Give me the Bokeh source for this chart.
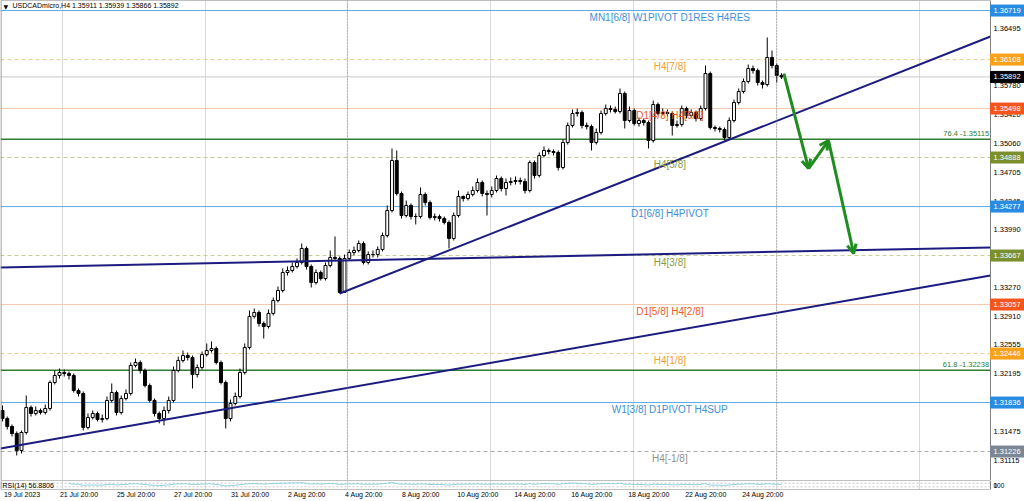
import numpy as np
from bokeh.plotting import figure
from bokeh.layouts import column
from bokeh.models import (ColumnDataSource, FixedTicker, Span, Arrow, OpenHead, Range1d,
                          LinearAxis)
from bokeh.core.properties import value
from bokeh.embed import file_html
from bokeh.resources import INLINE

# ---------------- data ----------------
symbol = "USDCADmicro,H4"
first_open = 1.31737
close = [
    1.31637, 1.31538, 1.31451, 1.31239, 1.31463, 1.31775, 1.31700, 1.31737, 1.31712, 1.31762,
    1.32086, 1.32173, 1.32210, 1.32198, 1.32173, 1.31986, 1.31949, 1.31526, 1.31650, 1.31700,
    1.31625, 1.31637, 1.31862, 1.31961, 1.31712, 1.31886, 1.31949, 1.32298, 1.32335, 1.32235,
    1.32048, 1.31862, 1.31700, 1.31637, 1.31737, 1.31862, 1.32235, 1.32360, 1.32422, 1.32397,
    1.32185, 1.32273, 1.32434, 1.32484, 1.32509, 1.32335, 1.32086, 1.31637, 1.31824, 1.31911,
    1.32210, 1.32522, 1.32909, 1.32958, 1.32821, 1.32783, 1.32946, 1.33107, 1.33232, 1.33456,
    1.33481, 1.33531, 1.33581, 1.33755, 1.33531, 1.33331, 1.33456, 1.33381, 1.33543, 1.33643,
    1.33631, 1.33207, 1.33631, 1.33705, 1.33730, 1.33817, 1.33581, 1.33680, 1.33680, 1.33743,
    1.33917, 1.34228, 1.34851, 1.34440, 1.34166, 1.34291, 1.34153, 1.34153, 1.34428, 1.34328,
    1.34141, 1.34153, 1.34128, 1.34079, 1.33880, 1.34166, 1.34403, 1.34378, 1.34428, 1.34477,
    1.34577, 1.34440, 1.34428, 1.34477, 1.34627, 1.34502, 1.34577, 1.34589, 1.34602, 1.34589,
    1.34477, 1.34826, 1.34664, 1.34913, 1.34976, 1.34963, 1.34951, 1.34764, 1.35075, 1.35287,
    1.35436, 1.35449, 1.35287, 1.35274, 1.35075, 1.35200, 1.35436, 1.35499, 1.35486, 1.35461,
    1.35686, 1.35349, 1.35474, 1.35312, 1.35349, 1.35324, 1.35100, 1.35548, 1.35436, 1.35449,
    1.35436, 1.35287, 1.35299, 1.35499, 1.35411, 1.35449, 1.35374, 1.35499, 1.35934, 1.35262,
    1.35250, 1.35237, 1.35137, 1.35349, 1.35573, 1.35710, 1.35835, 1.35997, 1.35972, 1.35822,
    1.35797, 1.36134, 1.36034, 1.35911, 1.35892]
high = [
    1.31800, 1.31662, 1.31563, 1.31476, 1.31488, 1.31924, 1.31800, 1.31787, 1.31762, 1.31812,
    1.32111, 1.32235, 1.32260, 1.32247, 1.32223, 1.32198, 1.32011, 1.31974, 1.31700, 1.31737,
    1.31725, 1.31687, 1.31911, 1.32073, 1.31986, 1.31924, 1.31999, 1.32335, 1.32385, 1.32360,
    1.32260, 1.32073, 1.31886, 1.31725, 1.31787, 1.31911, 1.32285, 1.32409, 1.32484, 1.32459,
    1.32422, 1.32310, 1.32472, 1.32572, 1.32597, 1.32534, 1.32360, 1.32111, 1.31874, 1.31961,
    1.32260, 1.32572, 1.32983, 1.33008, 1.32983, 1.32846, 1.32995, 1.33144, 1.33282, 1.33506,
    1.33531, 1.33581, 1.33631, 1.33817, 1.33780, 1.33556, 1.33494, 1.33481, 1.33581, 1.33730,
    1.33905, 1.33656, 1.33680, 1.33743, 1.33780, 1.33855, 1.33842, 1.33718, 1.33730, 1.33780,
    1.33954, 1.34291, 1.35001, 1.34976, 1.34465, 1.34353, 1.34316, 1.34191, 1.34515, 1.34453,
    1.34353, 1.34191, 1.34178, 1.34153, 1.34104, 1.34203, 1.34477, 1.34415, 1.34465, 1.34527,
    1.34627, 1.34602, 1.34477, 1.34527, 1.34664, 1.34652, 1.34627, 1.34639, 1.34652, 1.34639,
    1.34627, 1.34851, 1.34851, 1.34951, 1.35026, 1.35001, 1.34988, 1.34976, 1.35113, 1.35324,
    1.35486, 1.35499, 1.35474, 1.35324, 1.35299, 1.35250, 1.35474, 1.35548, 1.35536, 1.35523,
    1.35748, 1.35710, 1.35523, 1.35499, 1.35387, 1.35374, 1.35349, 1.35598, 1.35573, 1.35499,
    1.35486, 1.35461, 1.35349, 1.35536, 1.35523, 1.35486, 1.35474, 1.35536, 1.36034, 1.35959,
    1.35287, 1.35274, 1.35262, 1.35387, 1.35611, 1.35748, 1.35872, 1.36047, 1.36034, 1.35997,
    1.35847, 1.36383, 1.36221, 1.36059, 1.35939]
low = [
    1.31601, 1.31501, 1.31413, 1.31177, 1.31202, 1.31438, 1.31662, 1.31675, 1.31687, 1.31687,
    1.31737, 1.32061, 1.32135, 1.32160, 1.32123, 1.31961, 1.31911, 1.31488, 1.31501, 1.31625,
    1.31601, 1.31588, 1.31613, 1.31837, 1.31675, 1.31687, 1.31862, 1.31924, 1.32273, 1.32198,
    1.32024, 1.31837, 1.31662, 1.31576, 1.31551, 1.31700, 1.31837, 1.32210, 1.32335, 1.32360,
    1.32011, 1.32148, 1.32247, 1.32409, 1.32459, 1.32310, 1.32061, 1.31513, 1.31601, 1.31800,
    1.31886, 1.32185, 1.32497, 1.32883, 1.32783, 1.32634, 1.32758, 1.32921, 1.33082, 1.33207,
    1.33419, 1.33456, 1.33506, 1.33556, 1.33494, 1.33269, 1.33306, 1.33356, 1.33356, 1.33519,
    1.33606, 1.33194, 1.33207, 1.33606, 1.33668, 1.33705, 1.33556, 1.33556, 1.33643, 1.33643,
    1.33718, 1.33892, 1.34203, 1.34415, 1.34128, 1.34141, 1.34116, 1.34054, 1.34128, 1.34291,
    1.34116, 1.34104, 1.34091, 1.34054, 1.33755, 1.33855, 1.34141, 1.34340, 1.34353, 1.34403,
    1.34453, 1.34403, 1.34166, 1.34390, 1.34453, 1.34465, 1.34415, 1.34540, 1.34552, 1.34552,
    1.34440, 1.34453, 1.34627, 1.34639, 1.34889, 1.34926, 1.34913, 1.34726, 1.34739, 1.35050,
    1.35262, 1.35399, 1.35250, 1.35237, 1.34976, 1.35050, 1.35175, 1.35411, 1.35449, 1.35436,
    1.35436, 1.35250, 1.35324, 1.35287, 1.35274, 1.35287, 1.35001, 1.35075, 1.35411, 1.35411,
    1.35399, 1.35162, 1.35262, 1.35274, 1.35374, 1.35387, 1.35337, 1.35349, 1.35474, 1.35237,
    1.35212, 1.35200, 1.35100, 1.35113, 1.35324, 1.35548, 1.35686, 1.35810, 1.35934, 1.35785,
    1.35748, 1.35772, 1.35997, 1.35822, 1.35866]

date_ticks = [0, 12, 24, 36, 48, 60, 72, 84, 96, 108, 120, 132, 144, 156]
date_labels = ["19 Jul 2023", "21 Jul 20:00", "25 Jul 20:00", "27 Jul 20:00",
               "31 Jul 20:00", "2 Aug 20:00", "4 Aug 20:00", "8 Aug 20:00",
               "10 Aug 20:00", "14 Aug 20:00", "16 Aug 20:00", "18 Aug 20:00",
               "22 Aug 20:00", "24 Aug 20:00"]
price_ticks = [1.36495, 1.36140, 1.35780, 1.35420, 1.35060, 1.34705, 1.34345, 1.33990,
               1.33630, 1.33270, 1.32910, 1.32555, 1.32195, 1.31835, 1.31475, 1.31115]
grid_x = [12.6, 42.7, 72.6, 102.7, 132.8, 163.0, 193.1]
separator_x = [72.6, 163.0]

level_price = [1.36719, 1.36108, 1.35498, 1.34888, 1.34277, 1.33667, 1.33057, 1.32446,
               1.31836, 1.31226]
level_name = ["MN1[6/8] W1PIVOT D1RES H4RES", "H4[7/8]", "D1[4/8] H4[6/8]", "H4[5/8]",
              "D1[6/8] H4PIVOT", "H4[3/8]", "D1[5/8] H4[2/8]", "H4[1/8]",
              "W1[3/8] D1PIVOT H4SUP", "H4[-1/8]"]
level_kind = ["blue", "orange", "red", "olive", "blue", "olive", "red", "orange", "blue", "gray"]

fib_price = [1.35115, 1.32238]
fib_name = ["76.4", "61.8"]

trend_x0 = [71, -0.42, -0.42]
trend_y0 = [1.33194, 1.33519, 1.31264]
trend_x1 = [208.0, 208.0, 208.0]
trend_y1 = [1.36396, 1.33768, 1.33418]

arrow_x = [164.5, 169.7, 173.9, 179.2]
arrow_y = [1.35934, 1.34751, 1.35100, 1.33693]

rsi_period = 14
rsi_shown = 56.8806
rsi_axis_labels = ["100", "0"]

# ---------------- styles ----------------
FONT = "Liberation Sans"
STYLE = {
    "blue":   dict(line="#5AA9E6", dash="solid", text="#3D8FD6", box="#2A8CE0"),
    "orange": dict(line="#F2CB8F", dash="4 3",   text="#F0A030", box="#F7A21B"),
    "red":    dict(line="#F5C9AE", dash="solid", text="#EE5A24", box="#F2561D"),
    "olive":  dict(line="#C5CC96", dash="4 3",   text="#8C9A3C", box="#7A8F2E"),
    "gray":   dict(line="#A9A9A9", dash="4 3",   text="#909090", box="#7C8796"),
}
GREEN = "#2E7D32"
ARROW_GREEN = "#1E8C1E"
NAVY = "#1C1C80"
BORDER = "#808080"

W = 1024
MAIN_H = 480
x_lo, x_hi = -0.421, 215.16      # full window width
axis_x = 208.0                    # where the price scale begins
y_lo, y_hi = 1.30865, 1.36844
label_shift = 4.1                 # date labels start at their tick (MT4 style)

n = len(close)
idx = np.arange(n)
opens = np.array([first_open] + close[:-1])
c = np.array(close)
body_top = np.maximum(opens, c)
body_bot = np.minimum(opens, c)
fills = ["white" if cc >= oo else "black" for oo, cc in zip(opens, c)]

p = figure(frame_width=W, frame_height=MAIN_H,
           x_range=Range1d(x_lo, x_hi), y_range=Range1d(y_lo, y_hi),
           y_axis_location=None, x_axis_location=None,
           output_backend="svg", toolbar_location=None, min_border=0,
           background_fill_color="white", border_fill_color="white",
           outline_line_color=None)
p.ygrid.visible = False
p.xgrid.ticker = FixedTicker(ticks=grid_x)
p.xgrid.grid_line_color = "#DADADA"

for sx in separator_x:
    p.add_layout(Span(location=sx, dimension="height", line_color="#8A8A8A",
                      line_dash="1 2", line_width=1))

# murrey / pivot levels (stop at the price scale)
for pr, kind in zip(level_price, level_kind):
    st = STYLE[kind]
    p.segment(x0=[x_lo], y0=[pr], x1=[axis_x], y1=[pr], line_color=st["line"],
              line_dash=st["dash"], line_width=1)
p.segment(x0=[x_lo] * len(fib_price), y0=fib_price, x1=[axis_x] * len(fib_price), y1=fib_price,
          line_color=GREEN, line_width=1.5)
p.segment(x0=[x_lo], y0=[close[-1]], x1=[axis_x], y1=[close[-1]], line_color="#C8C8C8", line_width=1)

# candles
src = ColumnDataSource(dict(x=idx, top=body_top, bottom=body_bot, high=high, low=low, fill=fills))
p.segment(x0="x", y0="low", x1="x", y1="high", source=src, line_color="#000000", line_width=1)
p.vbar(x="x", width=0.62, top="top", bottom="bottom", source=src,
       fill_color="fill", line_color="#000000", line_width=1)

# trend lines
p.segment(x0=trend_x0, y0=trend_y0, x1=trend_x1, y1=trend_y1, line_color=NAVY, line_width=2)

# forecast arrows
asrc = ColumnDataSource(dict(xs=arrow_x[:-1], ys=arrow_y[:-1], xe=arrow_x[1:], ye=arrow_y[1:]))
p.add_layout(Arrow(end=OpenHead(size=9, line_color=ARROW_GREEN, line_width=3),
                   x_start="xs", y_start="ys", x_end="xe", y_end="ye", source=asrc,
                   line_color=ARROW_GREEN, line_width=3))

# level texts
lsrc = ColumnDataSource(dict(
    x=[140.5] * len(level_price), y=level_price, t=level_name,
    col=[STYLE[k]["text"] for k in level_kind]))
p.text(x="x", y="y", text="t", source=lsrc, text_color="col",
       text_font=value(FONT), text_font_size="10px",
       text_align="center", text_baseline="top", y_offset=1)

fsrc = ColumnDataSource(dict(
    x=[axis_x - 0.3] * len(fib_price), y=fib_price,
    t=[f"{nm} -{pr:.5f}" for nm, pr in zip(fib_name, fib_price)]))
p.text(x="x", y="y", text="t", source=fsrc, text_color=GREEN,
       text_font=value(FONT), text_font_size="7.5px",
       text_align="right", text_baseline="bottom", y_offset=-1)

# chart border + price scale line
p.segment(x0=[x_lo, x_lo, x_lo + 0.1, axis_x], y0=[y_hi, y_lo, y_lo, y_lo],
          x1=[axis_x, axis_x, x_lo + 0.1, axis_x], y1=[y_hi, y_lo, y_hi, y_hi],
          line_color=BORDER, line_width=1)

# price scale labels
p.text(x=[axis_x] * len(price_ticks), y=price_ticks, text=[f"{t:.5f}" for t in price_ticks],
       x_offset=3, text_baseline="middle", text_align="left",
       text_font=value(FONT), text_font_size="7.5px", text_color="#000000")

# coloured price boxes on the scale
half = 5.5 * (y_hi - y_lo) / MAIN_H
box_price = level_price + [close[-1]]
box_color = [STYLE[k]["box"] for k in level_kind] + ["#000000"]
bsrc = ColumnDataSource(dict(left=[axis_x] * len(box_price), right=[x_hi] * len(box_price),
                             top=[b + half for b in box_price], bottom=[b - half for b in box_price],
                             y=box_price, t=[f"{b:.5f}" for b in box_price], col=box_color))
p.quad(left="left", right="right", top="top", bottom="bottom", source=bsrc,
       fill_color="col", line_color="col")
p.text(x="left", y="y", text="t", source=bsrc, x_offset=3, text_baseline="middle",
       text_align="left", text_font=value(FONT), text_font_size="7.5px", text_color="white")

# title
title = f"{symbol} {opens[-1]:.5f} {high[-1]:.5f} {low[-1]:.5f} {close[-1]:.5f}"
p.text(x=[x_lo], y=[y_hi], text=["\u25BC"], x_offset=3, y_offset=2,
       text_font=value("DejaVu Sans"), text_font_size="6px", text_color="#000000",
       text_baseline="top")
p.text(x=[x_lo], y=[y_hi], text=[title], x_offset=12, y_offset=1,
       text_font=value(FONT), text_font_size="7px", text_color="#000000",
       text_baseline="top")

# ---------------- RSI sub-window ----------------
def rsi(vals, period):
    vals = np.asarray(vals, dtype=float)
    d = np.diff(vals)
    up = np.where(d > 0, d, 0.0)
    dn = np.where(d < 0, -d, 0.0)
    out = np.full(len(vals), np.nan)
    au = up[:period].mean()
    ad = dn[:period].mean()
    out[period] = 100 - 100 / (1 + au / ad) if ad > 0 else 100
    for i in range(period, len(d)):
        au = (au * (period - 1) + up[i]) / period
        ad = (ad * (period - 1) + dn[i]) / period
        out[i + 1] = 100 - 100 / (1 + au / ad) if ad > 0 else 100
    return out

r = figure(frame_width=W, frame_height=9, x_range=p.x_range, y_range=Range1d(0, 100),
           y_axis_location=None, x_axis_location=None,
           output_backend="svg", toolbar_location=None, min_border=0,
           background_fill_color="white", border_fill_color="white", outline_line_color=None)
r.xgrid.ticker = FixedTicker(ticks=grid_x)
r.xgrid.grid_line_color = "#DADADA"
r.ygrid.visible = False
for lv in (30, 70):
    r.segment(x0=[x_lo], y0=[lv], x1=[axis_x], y1=[lv], line_color="#C8C8C8", line_dash="2 2")
r.line(idx, rsi(close, rsi_period), line_color="#8FD0DF", line_width=1)
r.segment(x0=[x_lo, x_lo, x_lo + 0.1, axis_x], y0=[100, 0, 0, 0],
          x1=[axis_x, axis_x, x_lo + 0.1, axis_x], y1=[100, 0, 100, 100],
          line_color=BORDER, line_width=1)
r.text(x=[x_lo], y=[100], text=[f"RSI({rsi_period}) {rsi_shown:.4f}"], x_offset=2, y_offset=1,
       text_font=value(FONT), text_font_size="7px", text_color="#000000", text_baseline="top")
r.text(x=[axis_x, axis_x], y=[50, 50], text=rsi_axis_labels, x_offset=3,
       text_baseline="middle", text_align="left",
       text_font=value(FONT), text_font_size="6.5px", text_color="#000000")

# date axis: a shifted range so that each label starts at its bar, as MT4 does
r.extra_x_ranges = {"dates": Range1d(x_lo - label_shift, x_hi - label_shift)}
dax = LinearAxis(x_range_name="dates", ticker=FixedTicker(ticks=date_ticks),
                 major_label_overrides={t: lab for t, lab in zip(date_ticks, date_labels)},
                 major_label_text_font=FONT, major_label_text_font_size="7px",
                 major_label_text_color="#000000", major_label_standoff=1,
                 major_tick_out=0, major_tick_in=0, minor_tick_out=0, minor_tick_in=0,
                 axis_line_color=None)
r.add_layout(dax, "below")

layout = column(p, r, spacing=0)
open("out.html", "w").write(file_html(layout, INLINE))
